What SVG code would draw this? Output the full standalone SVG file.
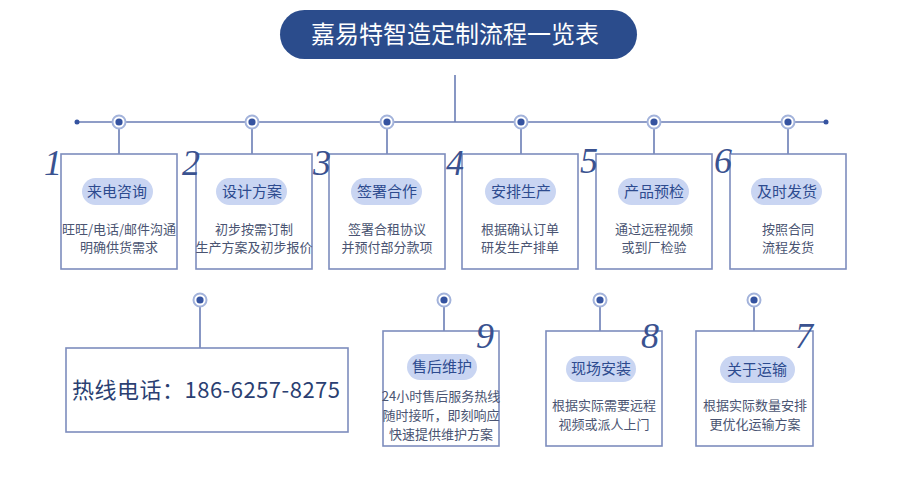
<svg xmlns="http://www.w3.org/2000/svg" width="902" height="500" viewBox="0 0 902 500">
<style>
.ln{stroke:#6a7db5;stroke-width:1.6;fill:none}
.box{fill:#fff;stroke:#7d8dbd;stroke-width:1.6}
.pill{fill:#c9d5f2}
.pt{font-family:"Noto Sans CJK SC",sans-serif;font-size:15px;fill:#2d4b8f;text-anchor:middle}
.dt{font-family:"Noto Sans CJK SC",sans-serif;font-size:13px;fill:#4a5472;text-anchor:middle}
.num{font-family:"Liberation Serif",serif;font-style:italic;font-size:36px;fill:#3a5290}
.ring{fill:#fff;stroke:#a3b3db;stroke-width:2}
.dot{fill:#3553a0}
</style>
<rect width="902" height="500" fill="#fff"/>
<g id="title">
<rect x="280" y="10" width="357" height="49" rx="24.5" fill="#2b4c8c"/>
<text x="455" y="43" font-family="Noto Sans CJK SC,sans-serif" font-size="24" fill="#fff" text-anchor="middle">嘉易特智造定制流程一览表</text>
</g>
<g id="connectors">
<line class="ln" x1="455" y1="75" x2="455" y2="122"/>
<line class="ln" x1="77" y1="122" x2="826" y2="122"/>
<circle class="dot" cx="77" cy="122" r="2.5"/>
<circle class="dot" cx="826" cy="122" r="2.5"/>
<line class="ln" x1="119" y1="122" x2="119" y2="154"/>
<line class="ln" x1="252" y1="122" x2="252" y2="154"/>
<line class="ln" x1="387" y1="122" x2="387" y2="154"/>
<line class="ln" x1="521" y1="122" x2="521" y2="154"/>
<line class="ln" x1="654" y1="122" x2="654" y2="154"/>
<line class="ln" x1="788" y1="122" x2="788" y2="154"/>
<line class="ln" x1="200" y1="300" x2="200" y2="348"/>
<line class="ln" x1="444" y1="300" x2="444" y2="331"/>
<line class="ln" x1="600" y1="300" x2="600" y2="331"/>
<line class="ln" x1="754" y1="300" x2="754" y2="331"/>
<g>
<circle class="ring" cx="119" cy="122" r="6.5"/><circle class="dot" cx="119" cy="122" r="3.6"/>
<circle class="ring" cx="252" cy="122" r="6.5"/><circle class="dot" cx="252" cy="122" r="3.6"/>
<circle class="ring" cx="387" cy="122" r="6.5"/><circle class="dot" cx="387" cy="122" r="3.6"/>
<circle class="ring" cx="521" cy="122" r="6.5"/><circle class="dot" cx="521" cy="122" r="3.6"/>
<circle class="ring" cx="654" cy="122" r="6.5"/><circle class="dot" cx="654" cy="122" r="3.6"/>
<circle class="ring" cx="788" cy="122" r="6.5"/><circle class="dot" cx="788" cy="122" r="3.6"/>
<circle class="ring" cx="200" cy="300" r="6.5"/><circle class="dot" cx="200" cy="300" r="3.6"/>
<circle class="ring" cx="444" cy="300" r="6.5"/><circle class="dot" cx="444" cy="300" r="3.6"/>
<circle class="ring" cx="600" cy="300" r="6.5"/><circle class="dot" cx="600" cy="300" r="3.6"/>
<circle class="ring" cx="754" cy="300" r="6.5"/><circle class="dot" cx="754" cy="300" r="3.6"/>
</g>
</g>
<g id="step1">
<rect class="box" x="61" y="154" width="116" height="115"/>
<text class="num" x="44" y="175">1</text>
<rect class="pill" x="82" y="178" width="71" height="27" rx="13.5"/>
<text class="pt" x="117" y="197">来电咨询</text>
<text class="dt" x="119" y="234">旺旺/电话/邮件沟通</text>
<text class="dt" x="119" y="252">明确供货需求</text>
</g>
<g id="step2">
<rect class="box" x="196" y="154" width="116" height="115"/>
<text class="num" x="182" y="175">2</text>
<rect class="pill" x="216" y="178" width="71" height="27" rx="13.5"/>
<text class="pt" x="252" y="197">设计方案</text>
<text class="dt" x="254" y="234">初步按需订制</text>
<text class="dt" x="254" y="252">生产方案及初步报价</text>
</g>
<g id="step3">
<rect class="box" x="329" y="154" width="116" height="115"/>
<text class="num" x="313" y="175">3</text>
<rect class="pill" x="351" y="178" width="71" height="27" rx="13.5"/>
<text class="pt" x="387" y="197">签署合作</text>
<text class="dt" x="387" y="234">签署合租协议</text>
<text class="dt" x="387" y="252">并预付部分款项</text>
</g>
<g id="step4">
<rect class="box" x="462" y="154" width="116" height="115"/>
<text class="num" x="446" y="175">4</text>
<rect class="pill" x="485" y="178" width="71" height="27" rx="13.5"/>
<text class="pt" x="521" y="197">安排生产</text>
<text class="dt" x="520" y="234">根据确认订单</text>
<text class="dt" x="520" y="252">研发生产排单</text>
</g>
<g id="step5">
<rect class="box" x="596" y="154" width="116" height="115"/>
<text class="num" x="580" y="173">5</text>
<rect class="pill" x="618" y="178" width="71" height="27" rx="13.5"/>
<text class="pt" x="654" y="197">产品预检</text>
<text class="dt" x="654" y="234">通过远程视频</text>
<text class="dt" x="654" y="252">或到厂检验</text>
</g>
<g id="step6">
<rect class="box" x="730" y="154" width="116" height="115"/>
<text class="num" x="714" y="173">6</text>
<rect class="pill" x="751" y="178" width="71" height="27" rx="13.5"/>
<text class="pt" x="787" y="197">及时发货</text>
<text class="dt" x="788" y="234">按照合同</text>
<text class="dt" x="788" y="252">流程发货</text>
</g>
<g id="hotline">
<rect class="box" x="66" y="348" width="282" height="84"/>
<text x="206" y="398" font-family="Noto Sans CJK SC,sans-serif" font-size="22" fill="#2b3f72" text-anchor="middle" textLength="268" lengthAdjust="spacing">热线电话：186-6257-8275</text>
</g>
<g id="step9">
<rect class="box" x="383" y="331" width="116" height="115"/>
<text class="num" x="476" y="348">9</text>
<rect class="pill" x="407" y="354" width="70" height="26" rx="13"/>
<text class="pt" x="442" y="372">售后维护</text>
<text class="dt" x="441" y="401">24小时售后服务热线</text>
<text class="dt" x="441" y="420">随时接听，即刻响应</text>
<text class="dt" x="441" y="439">快速提供维护方案</text>
</g>
<g id="step8">
<rect class="box" x="546" y="331" width="116" height="115"/>
<text class="num" x="641" y="348">8</text>
<rect class="pill" x="566" y="356" width="70" height="26" rx="13"/>
<text class="pt" x="601" y="374">现场安装</text>
<text class="dt" x="604" y="410">根据实际需要远程</text>
<text class="dt" x="604" y="429">视频或派人上门</text>
</g>
<g id="step7">
<rect class="box" x="696" y="331" width="117" height="115"/>
<text class="num" x="795" y="348">7</text>
<rect class="pill" x="720" y="356" width="75" height="27" rx="13.5"/>
<text class="pt" x="757" y="375">关于运输</text>
<text class="dt" x="755" y="410">根据实际数量安排</text>
<text class="dt" x="755" y="429">更优化运输方案</text>
</g>
</svg>
